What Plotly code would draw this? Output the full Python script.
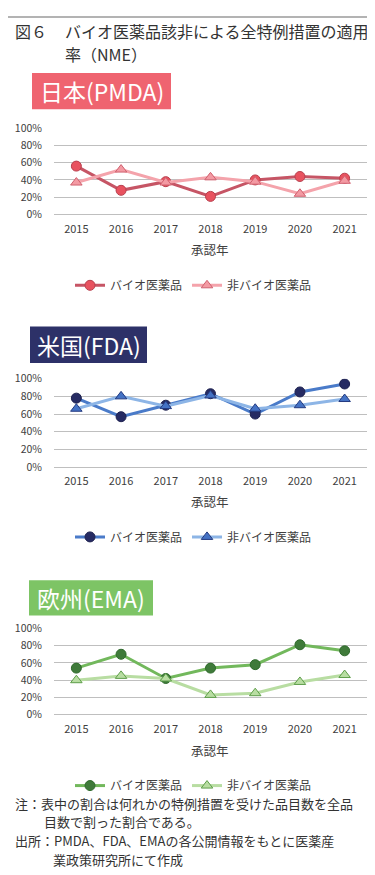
import plotly.graph_objects as go

W, H = 375, 875
FONT = "Noto Sans CJK JP"

years = ["2015", "2016", "2017", "2018", "2019", "2020", "2021"]
series_names = ["バイオ医薬品", "非バイオ医薬品"]
jp_bio = [56, 28, 38, 21, 40, 44, 42]
jp_nonbio = [37, 52, 37, 43, 38, 24, 39]
us_bio = [78, 57, 70, 83, 60, 85, 94]
us_nonbio = [66, 80, 69, 81, 66, 70, 77]
eu_bio = [54, 70, 42, 54, 58, 81, 74]
eu_nonbio = [40, 45, 42, 23, 25, 38, 46]
y_ticks = [0, 20, 40, 60, 80, 100]
y_tick_labels = ["0%", "20%", "40%", "60%", "80%", "100%"]

title_fig = "図６"
title_line1 = "バイオ医薬品該非による全特例措置の適用"
title_line2 = "率（NME）"
badges = ["日本(PMDA)", "米国(FDA)", "欧州(EMA)"]
axis_title = "承認年"
note_lines = [
    ("注：表中の割合は何れかの特例措置を受けた品目数を全品", 5, 801),
    ("目数で割った割合である。", 34, 820),
    ("出所：PMDA、FDA、EMAの各公開情報をもとに医薬産", 5, 839),
    ("業政策研究所にて作成", 43, 858),
]


def px(v):
    return v / W


def py(v):
    return 1 - v / H


panels = [
    dict(top=114, bottom=202, legend_y=274, title_y=238,
         badge=(24, 58, 163, 95), badge_color="#EF6470",
         bio=jp_bio, non=jp_nonbio,
         bio_line="#C65565", bio_mk="#E8525F", bio_edge="#B8404E",
         non_line="#F4A3AB", non_mk="#F39AA3", non_edge="#D0606E"),
    dict(top=369, bottom=459, legend_y=530, title_y=494,
         badge=(22, 316, 139, 353), badge_color="#2D3168",
         bio=us_bio, non=us_nonbio,
         bio_line="#4A7BC9", bio_mk="#262B63", bio_edge="#1E2250",
         non_line="#8DB5E6", non_mk="#4472C4", non_edge="#233A80"),
    dict(top=623, bottom=711, legend_y=783, title_y=747,
         badge=(21, 574, 145, 610), badge_color="#7DC465",
         bio=eu_bio, non=eu_nonbio,
         bio_line="#72B85C", bio_mk="#3F7A3A", bio_edge="#2F6A2C",
         non_line="#B8DDA2", non_mk="#B8DDA2", non_edge="#5E9E4A"),
]

fig = go.Figure()
shapes = []
annotations = []

x_dom = [px(46), px(359)]

for i, p in enumerate(panels):
    n = "" if i == 0 else str(i + 1)
    xa, ya = "x" + n, "y" + n
    leg = "legend" + n
    fig.add_trace(go.Scatter(
        x=years, y=p["bio"], name=series_names[0], xaxis=xa, yaxis=ya,
        mode="lines+markers", legend=leg,
        line=dict(color=p["bio_line"], width=3),
        marker=dict(symbol="circle", size=10, color=p["bio_mk"],
                    line=dict(color=p["bio_edge"], width=1)),
    ))
    fig.add_trace(go.Scatter(
        x=years, y=p["non"], name=series_names[1], xaxis=xa, yaxis=ya,
        mode="lines+markers", legend=leg,
        line=dict(color=p["non_line"], width=3),
        marker=dict(symbol="triangle-up", size=10, color=p["non_mk"],
                    line=dict(color=p["non_edge"], width=1)),
    ))
    fig.layout["xaxis" + n] = dict(
        domain=x_dom, anchor=ya, type="category", range=[-0.5, 6.5],
        showgrid=False, showline=False, zeroline=False, ticks="",
        tickfont=dict(family=FONT, size=11, color="#404040"),
        ticklabelstandoff=6, fixedrange=True,
    )
    fig.layout["yaxis" + n] = dict(
        domain=[py(p["bottom"]), py(p["top"])], anchor=xa, range=[0, 100],
        tickmode="array", tickvals=y_ticks, ticktext=y_tick_labels,
        showgrid=True, gridcolor="#BFBFBF", gridwidth=1, showline=False,
        zeroline=True, zerolinecolor="#BFBFBF", zerolinewidth=1, ticks="",
        tickfont=dict(family=FONT, size=10.5, color="#404040"),
        ticklabelstandoff=11, fixedrange=True,
    )
    fig.layout[leg] = dict(
        orientation="h", x=px(62), xanchor="left",
        y=py(p["legend_y"]), yanchor="middle",
        font=dict(family=FONT, size=12, color="#404040"),
        bgcolor="rgba(0,0,0,0)", itemwidth=30, tracegroupgap=0,
    )
    x0, y0, x1, y1 = p["badge"]
    shapes.append(dict(type="rect", xref="paper", yref="paper",
                       x0=px(x0), x1=px(x1), y0=py(y1), y1=py(y0),
                       fillcolor=p["badge_color"], line=dict(width=0),
                       layer="below"))
    annotations.append(dict(text=badges[i], xref="paper", yref="paper",
                            x=px((x0 + x1) / 2), y=py((y0 + y1) / 2),
                            xanchor="center", yanchor="middle", showarrow=False,
                            font=dict(family=FONT, size=23, color="white")))
    annotations.append(dict(text=axis_title, xref="paper", yref="paper",
                            x=px(202), y=py(p["title_y"]),
                            xanchor="center", yanchor="middle", showarrow=False,
                            font=dict(family=FONT, size=12.5, color="#404040")))

shapes.append(dict(type="line", xref="paper", yref="paper",
                   x0=0, x1=1, y0=py(1), y1=py(1),
                   line=dict(color="#9A9A9A", width=1.5)))
for txt, xx, yy in [(title_fig, 5, 15), (title_line1, 55, 15),
                    (title_line2, 55, 39)]:
    annotations.append(dict(text=txt, xref="paper", yref="paper",
                            x=px(xx), y=py(yy), xanchor="left",
                            yanchor="middle", showarrow=False,
                            font=dict(family=FONT, size=16, color="#333333")))
for txt, xx, yy in note_lines:
    annotations.append(dict(text=txt, xref="paper", yref="paper",
                            x=px(xx), y=py(yy), xanchor="left",
                            yanchor="middle", showarrow=False,
                            font=dict(family=FONT, size=13, color="#333333")))

fig.update_layout(
    width=W, height=H, margin=dict(l=0, r=0, t=0, b=0),
    paper_bgcolor="white", plot_bgcolor="white",
    shapes=shapes, annotations=annotations,
    font=dict(family=FONT),
)

fig.write_html("out.html", config={"displayModeBar": False})
